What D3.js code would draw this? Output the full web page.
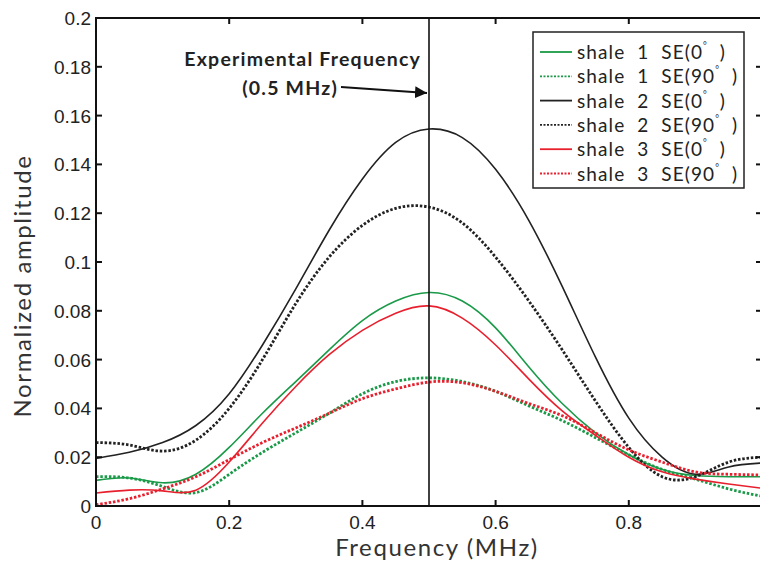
<!DOCTYPE html>
<html>
<head>
<meta charset="utf-8">
<script src="https://cdn.jsdelivr.net/npm/d3@7"></script>
<style>
  body { margin: 0; background: #fff; }
  #drawing-area { width: 760px; height: 562px; }
</style>
</head>
<body>
<div id="drawing-area"></div>
<script>
// frequency grid (MHz)
var freq = [0, 0.05, 0.1, 0.15, 0.2, 0.25, 0.3, 0.35, 0.4, 0.45, 0.5,
            0.55, 0.6, 0.65, 0.7, 0.75, 0.8, 0.85, 0.9, 0.95, 1.0];

// values
var shale1_0  = [0.0105, 0.0115, 0.0095, 0.013, 0.024, 0.038, 0.051, 0.064, 0.076, 0.084, 0.0875,
                 0.084, 0.073, 0.057, 0.042, 0.030, 0.021, 0.015, 0.0125, 0.012, 0.012];
var shale1_90 = [0.012, 0.0115, 0.008, 0.0055, 0.013, 0.022, 0.030, 0.038, 0.046, 0.051, 0.0525,
                 0.051, 0.047, 0.041, 0.035, 0.028, 0.021, 0.015, 0.011, 0.007, 0.004];
var shale2_0  = [0.0195, 0.022, 0.026, 0.033, 0.046, 0.066, 0.089, 0.113, 0.134, 0.149, 0.1545,
                 0.151, 0.138, 0.117, 0.090, 0.061, 0.036, 0.020, 0.013, 0.016, 0.0176];
var shale2_90 = [0.026, 0.025, 0.0225, 0.027, 0.040, 0.060, 0.083, 0.102, 0.115, 0.122, 0.1225,
                 0.116, 0.102, 0.084, 0.064, 0.043, 0.024, 0.012, 0.012, 0.018, 0.020];
var shale3_0  = [0.0053, 0.0065, 0.0062, 0.0065, 0.018, 0.034, 0.049, 0.062, 0.072, 0.079, 0.082,
                 0.077, 0.066, 0.052, 0.039, 0.029, 0.020, 0.014, 0.011, 0.009, 0.0073];
var shale3_90 = [0.0005, 0.003, 0.007, 0.012, 0.019, 0.026, 0.032, 0.038, 0.044, 0.048, 0.0508,
                 0.0505, 0.047, 0.042, 0.037, 0.030, 0.023, 0.018, 0.014, 0.013, 0.0127];

var series_names = ["shale  1  SE(0", "shale  1  SE(90", "shale  2  SE(0",
                    "shale  2  SE(90", "shale  3  SE(0", "shale  3  SE(90"];
var series_values = [shale1_0, shale1_90, shale2_0, shale2_90, shale3_0, shale3_90];
var series_colors = ["#1a9a48", "#1a9a48", "#222222", "#222222", "#e8202e", "#e8202e"];
var series_dotted = [false, true, false, true, false, true];

var x_ticks = [0, 0.2, 0.4, 0.6, 0.8, 1.0];
var y_ticks = [0, 0.02, 0.04, 0.06, 0.08, 0.1, 0.12, 0.14, 0.16, 0.18, 0.2];
var exp_freq = 0.5;

function draw() {
    var sx = 760, sy = 562;
    var svg = d3.select('#drawing-area').append('svg').attr('width', sx).attr('height', sy);

    var x = d3.scaleLinear().domain([0, 1]).range([96, 762]);
    var y = d3.scaleLinear().domain([0, 0.2]).range([506, 18]);

    // curves
    var line = d3.line().curve(d3.curveNatural);
    for (var j = 0; j < series_values.length; j++) {
        var pts = freq.map(function (f, i) { return [x(f), y(series_values[j][i])]; });
        svg.append("path")
            .attr("d", line(pts))
            .attr("fill", "none")
            .attr("stroke", series_colors[j])
            .attr("stroke-width", series_dotted[j] ? 2.8 : 1.6)
            .attr("stroke-dasharray", series_dotted[j] ? "2.5,1.8" : null);
    }

    // experimental frequency line
    svg.append("line")
        .attr("x1", x(exp_freq)).attr("x2", x(exp_freq))
        .attr("y1", y(0.2)).attr("y2", y(0))
        .attr("stroke", "#111").attr("stroke-width", 1.6);

    // frame
    svg.append("rect")
        .attr("x", x(0)).attr("y", y(0.2))
        .attr("width", x(1) - x(0)).attr("height", y(0) - y(0.2))
        .attr("fill", "none").attr("stroke", "#111").attr("stroke-width", 2);

    var tick_font = "'Liberation Sans', Arial, sans-serif";
    // x ticks (bottom + top, inward)
    x_ticks.forEach(function (t) {
        svg.append("line").attr("x1", x(t)).attr("x2", x(t)).attr("y1", y(0)).attr("y2", y(0) - 6)
            .attr("stroke", "#111").attr("stroke-width", 2);
        svg.append("line").attr("x1", x(t)).attr("x2", x(t)).attr("y1", y(0.2)).attr("y2", y(0.2) + 6)
            .attr("stroke", "#111").attr("stroke-width", 2);
        if (t < 1) {
            svg.append("text").attr("x", x(t)).attr("y", y(0) + 23)
                .attr("text-anchor", "middle").attr("font-family", tick_font).attr("font-size", 19)
                .attr("fill", "#222")
                .text(t === 0 ? "0" : d3.format(".1f")(t));
        }
    });
    // y ticks (left + right, inward)
    y_ticks.forEach(function (t) {
        svg.append("line").attr("x1", x(0)).attr("x2", x(0) + 6).attr("y1", y(t)).attr("y2", y(t))
            .attr("stroke", "#111").attr("stroke-width", 2);
        svg.append("line").attr("x1", x(1)).attr("x2", x(1) - 6).attr("y1", y(t)).attr("y2", y(t))
            .attr("stroke", "#111").attr("stroke-width", 2);
        svg.append("text").attr("x", x(0) - 5).attr("y", y(t) + 7)
            .attr("text-anchor", "end").attr("font-family", tick_font).attr("font-size", 19)
            .attr("fill", "#222")
            .text(t === 0 ? "0" : String(+t.toFixed(2)));
    });

    // axis titles
    var title_font = "Lato, 'Open Sans', sans-serif";
    svg.append("text").attr("x", 437).attr("y", 556)
        .attr("text-anchor", "middle").attr("font-family", title_font).attr("font-size", 24)
        .attr("fill", "#333").attr("letter-spacing", 1.6)
        .text("Frequency (MHz)");
    svg.append("text").attr("transform", "translate(31,286) rotate(-90)")
        .attr("text-anchor", "middle").attr("font-family", title_font).attr("font-size", 24)
        .attr("fill", "#333").attr("letter-spacing", 1.6)
        .text("Normalized amplitude");

    // annotation
    svg.append("text").attr("x", 421).attr("y", 66)
        .attr("text-anchor", "end").attr("font-family", title_font).attr("font-weight", "bold")
        .attr("font-size", 19.5).attr("fill", "#222").attr("letter-spacing", 1.2)
        .text("Experimental Frequency");
    svg.append("text").attr("x", 338).attr("y", 95)
        .attr("text-anchor", "end").attr("font-family", title_font).attr("font-weight", "bold")
        .attr("font-size", 19.5).attr("fill", "#222").attr("letter-spacing", 1.2)
        .text("(0.5 MHz)");
    svg.append("defs").append("marker")
        .attr("id", "arrow").attr("viewBox", "0 0 10 10").attr("refX", 10).attr("refY", 5)
        .attr("markerWidth", 6).attr("markerHeight", 6).attr("orient", "auto")
        .append("path").attr("d", "M0,0 L10,5 L0,10 Z").attr("fill", "#111");
    svg.append("line").attr("x1", 341).attr("y1", 87).attr("x2", x(exp_freq) - 2).attr("y2", 93)
        .attr("stroke", "#111").attr("stroke-width", 2).attr("marker-end", "url(#arrow)");

    // legend
    var lg = svg.append("g");
    lg.append("rect").attr("x", 533).attr("y", 32).attr("width", 211).attr("height", 156)
        .attr("fill", "#fff").attr("stroke", "#222").attr("stroke-width", 1.5);
    for (var k = 0; k < series_names.length; k++) {
        var ly = 52 + k * 24.3;
        lg.append("line").attr("x1", 540).attr("x2", 572).attr("y1", ly).attr("y2", ly)
            .attr("stroke", series_colors[k])
            .attr("stroke-width", 1.8)
            .attr("stroke-dasharray", series_dotted[k] ? "2,1.5" : null);
        var t = lg.append("text").attr("x", 577).attr("y", ly + 7)
            .attr("font-family", title_font).attr("font-size", 19).attr("fill", "#222")
            .attr("letter-spacing", 1.1)
            .attr("xml:space", "preserve").style("white-space", "pre");
        t.append("tspan").text(series_names[k]);
        t.append("tspan").attr("font-size", 9).attr("dy", -10).text("\u00b0");
        t.append("tspan").attr("dy", 10).text("  )");
    }
}

draw();
</script>
</body>
</html>
